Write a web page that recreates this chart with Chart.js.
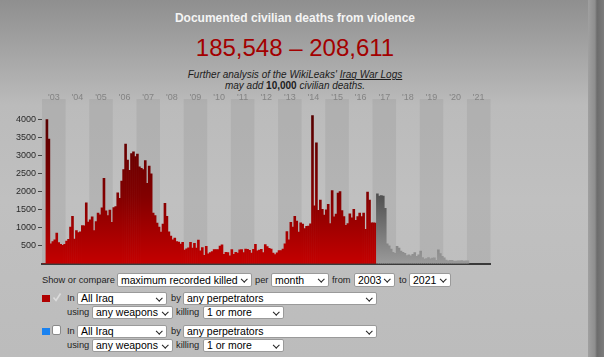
<!DOCTYPE html>
<html><head><meta charset="utf-8">
<script src="https://cdn.jsdelivr.net/npm/chart.js@4.4.1/dist/chart.umd.min.js"></script>
<style>
html,body{margin:0;padding:0}
body{width:604px;height:357px;overflow:hidden;position:relative;background:linear-gradient(#8f8f8f 0px,#a8a8a8 60px,#bbbbbb 105px,#c0c0c0 200px,#bcbcbc 357px);font-family:"Liberation Sans",Arial,sans-serif}
#edge{position:absolute;left:588px;top:0;width:16px;height:357px;background:linear-gradient(90deg,#a0a0a0 0,#8e8e8e 7px,#6c6c6c 9px,#7c7c7c 16px)}
.t{position:absolute;left:0;width:590px;text-align:center;white-space:nowrap}
#title{top:11px;font-weight:bold;font-size:12px;line-height:14px;color:#f4f4f4}
#range{top:35px;font-family:"Liberation Sans Narrow","Liberation Sans",sans-serif;font-size:24px;line-height:26px;color:#a30000}
#sub{top:69px;font-size:10px;line-height:11px;font-style:italic;color:#1c1c1c}
#sub b{font-style:normal}
#wrap{position:absolute;left:0;top:90px;width:500px;height:181px}
.lbl{position:absolute;font-size:9.3px;color:#1f1f1f;white-space:nowrap}
.sel{position:absolute;box-sizing:border-box;background:#fff;border:1px solid #9a9a9a;border-radius:2px;font-size:10.5px;color:#000;padding-left:3px;white-space:nowrap;overflow:hidden}
.sel::after{content:"";position:absolute;right:5px;top:50%;width:3.5px;height:3.5px;border-right:1.2px solid #222;border-bottom:1.2px solid #222;transform:translateY(-75%) rotate(45deg)}
.sq{position:absolute;width:8px;height:7px}
</style></head>
<body>
<div id="edge"></div>
<div class="t" id="title">Documented civilian deaths from violence</div>
<div class="t" id="range">185,548 – 208,611</div>
<div class="t" id="sub">Further analysis of the WikiLeaks' <u>Iraq War Logs</u><br>may add <b>10,000</b> civilian deaths.</div>
<div id="wrap"><canvas id="c" width="500" height="181"></canvas></div>

<!-- row 1 -->
<div class="lbl" style="left:42px;top:274px;line-height:13px">Show or compare</div>
<div class="sel" style="left:117px;top:273px;width:135px;height:14px;line-height:12px">maximum recorded killed</div>
<div class="lbl" style="left:255px;top:274px;line-height:13px">per</div>
<div class="sel" style="left:271px;top:273px;width:58px;height:14px;line-height:12px">month</div>
<div class="lbl" style="left:332px;top:274px;line-height:13px">from</div>
<div class="sel" style="left:354px;top:273px;width:41px;height:14px;line-height:12px">2003</div>
<div class="lbl" style="left:399px;top:274px;line-height:13px">to</div>
<div class="sel" style="left:409px;top:273px;width:42px;height:14px;line-height:12px">2021</div>
<!-- row 2 -->
<div class="sq" style="left:42px;top:295px;background:#b00000"></div>
<svg style="position:absolute;left:52px;top:292px" width="10" height="11"><polyline points="1.5,5.5 4,8.5 8.5,1.5" fill="none" stroke="#dcdcdc" stroke-width="1.6"/></svg>
<div class="lbl" style="left:67px;top:292px;line-height:13px">In</div>
<div class="sel" style="left:77px;top:292px;width:90px;height:13px;line-height:11px">All Iraq</div>
<div class="lbl" style="left:171px;top:292px;line-height:13px">by</div>
<div class="sel" style="left:183px;top:292px;width:194px;height:13px;line-height:11px">any perpetrators</div>
<div class="lbl" style="left:67px;top:306px;line-height:13px">using</div>
<div class="sel" style="left:92px;top:306px;width:81px;height:13px;line-height:11px">any weapons</div>
<div class="lbl" style="left:176px;top:306px;line-height:13px">killing</div>
<div class="sel" style="left:203px;top:306px;width:81px;height:13px;line-height:11px">1 or more</div>
<!-- row 4 -->
<div class="sq" style="left:42px;top:328px;background:#1a82f0"></div>
<div style="position:absolute;left:52px;top:325px;width:9px;height:10px;box-sizing:border-box;background:#fff;border:1px solid #8a8a8a;border-radius:2px"></div>
<div class="lbl" style="left:67px;top:325px;line-height:13px">In</div>
<div class="sel" style="left:77px;top:325px;width:90px;height:13px;line-height:11px">All Iraq</div>
<div class="lbl" style="left:171px;top:325px;line-height:13px">by</div>
<div class="sel" style="left:183px;top:325px;width:194px;height:13px;line-height:11px">any perpetrators</div>
<div class="lbl" style="left:67px;top:339px;line-height:13px">using</div>
<div class="sel" style="left:92px;top:339px;width:81px;height:13px;line-height:11px">any weapons</div>
<div class="lbl" style="left:176px;top:339px;line-height:13px">killing</div>
<div class="sel" style="left:203px;top:339px;width:81px;height:13px;line-height:11px">1 or more</div>

<script>
const yearLabels = ["'03","'04","'05","'06","'07","'08","'09","'10","'11","'12","'13","'14","'15","'16","'17","'18","'19","'20","'21"];
const yTicks = [500,1000,1500,2000,2500,3000,3500,4000];
const yMax = 4141;

const y2003 = [3,2,3990,3450,545,610,660,845,580,530,505,535];
const y2004 = [620,670,1010,1310,680,915,860,878,1050,1045,1680,1150];
const y2005 = [1215,1297,915,1160,1400,1347,1545,2360,1460,1330,1480,1145];
const y2006 = [1550,1579,1960,1810,2285,2600,3305,2865,2580,3045,3095,2960];
const y2007 = [3035,2680,2640,2600,2854,2219,2702,2483,1400,1326,1124,1010];
const y2008 = [870,1093,1670,1310,880,760,660,704,612,594,540,586];
const y2009 = [372,409,438,590,428,564,431,653,352,441,226,478];
const y2010 = [267,305,336,385,387,385,488,520,254,315,307,218];
const y2011 = [389,254,311,289,381,386,308,401,397,366,288,392];
const y2012 = [531,356,377,392,304,529,469,422,400,290,253,299];
const y2013 = [357,360,403,545,888,659,1145,1013,1306,1180,870,1126];
const y2014 = [1097,972,1029,1037,1100,4095,1600,3345,1474,1760,1500,1340];
const y2015 = [1490,1640,1105,2020,1295,1370,1950,1991,1470,1300,1060,1110];
const y2016 = [1380,1270,1500,1200,1300,1400,1300,1400,950,1980,1760,1130];
const y2017 = [1130,1120,1930,1870,1880,1870,1530,550,490,400,310,286];
const y2018 = [480,430,350,310,286,222,240,212,260,305,200,240];
const y2019 = [345,170,123,140,166,130,155,157,92,380,280,200];
const y2020 = [160,100,79,88,90,72,71,77,79,84,69,74];
const y2021 = [75];
const provisionalFrom = 170; // first grey (preliminary) month: Mar 2017

const killed = [].concat(y2003,y2004,y2005,y2006,y2007,y2008,y2009,y2010,y2011,y2012,y2013,y2014,y2015,y2016,y2017,y2018,y2019,y2020,y2021);
const monthLabels = [];
for (let y = 2003; y <= 2021; y++) for (let m = 1; m <= 12; m++) monthLabels.push(y + '-' + m);
const series = monthLabels.map((_, i) => i < killed.length ? killed[i] : null);

function barColor(ctx) {
  const chart = ctx.chart, a = chart.chartArea;
  if (!a) return '#a00000';
  const g = chart.ctx.createLinearGradient(0, a.top, 0, a.bottom);
  if (ctx.dataIndex >= provisionalFrom) {
    g.addColorStop(0, '#2e2e2e'); g.addColorStop(0.5, '#4a4a4a'); g.addColorStop(1, '#9a9a9a');
  } else {
    g.addColorStop(0, '#560000'); g.addColorStop(0.55, '#820000'); g.addColorStop(1, '#c40000');
  }
  return g;
}

const bands = {
  id: 'bands',
  beforeDraw(chart) {
    const { ctx, chartArea: a } = chart;
    const w = (a.right - a.left) / yearLabels.length;
    ctx.save();
    ctx.fillStyle = 'rgba(0,0,0,0.06)';
    for (let i = 0; i < yearLabels.length; i += 2) ctx.fillRect(a.left + i * w, 9, w, a.bottom - 9);
    ctx.restore();
  }
};

new Chart(document.getElementById('c'), {
  type: 'bar',
  data: { labels: monthLabels, datasets: [{ data: series, backgroundColor: barColor, borderWidth: 0, barPercentage: 1, categoryPercentage: 1 }] },
  options: {
    responsive: false, animation: false, devicePixelRatio: 1,
    layout: { padding: { left: 0, right: 9.5, top: 0, bottom: 0 } },
    plugins: { legend: { display: false }, tooltip: { enabled: false } },
    scales: {
      x: { offset: true, grid: { display: false }, ticks: { display: false }, border: { display: true, color: '#3a3a3a', width: 2 }, afterFit: s => { s.height = 2; } },
      xTop: { type: 'category', labels: yearLabels, position: 'top', offset: true, grid: { display: false }, border: { display: false },
        ticks: { color: '#838383', font: { size: 9, family: 'Liberation Sans' }, padding: 3, autoSkip: false, maxRotation: 0 },
        afterFit: s => { s.height = 24; } },
      y: { min: 0, max: yMax, afterBuildTicks: s => { s.ticks = yTicks.map(v => ({ value: v })); },
        grid: { drawOnChartArea: false, tickLength: 4, color: '#444' }, border: { display: false },
        ticks: { color: '#2a2a2a', font: { size: 9, family: 'Liberation Sans' }, padding: 2, callback: v => String(v) },
        afterFit: s => { s.width = 42; } }
    }
  },
  plugins: [bands]
});
</script>
</body></html>
